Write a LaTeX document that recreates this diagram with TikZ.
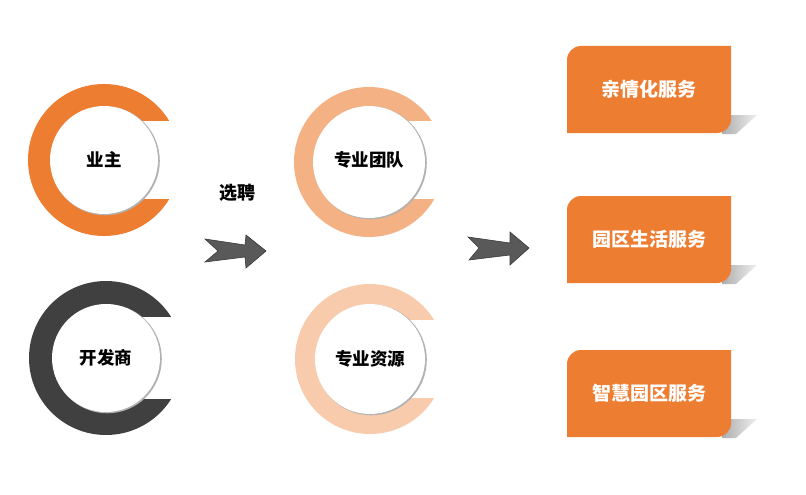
\documentclass[tikz,border=0pt]{standalone}
\usepackage{fontspec}
\setmainfont{Noto Sans CJK SC}
\definecolor{cOrange}{HTML}{ED7D31}
\definecolor{cDark}{HTML}{404040}
\definecolor{cLight}{HTML}{F4B183}
\definecolor{cPale}{HTML}{F8CBAD}
\definecolor{cArrow}{HTML}{595959}
\definecolor{cArrowEdge}{HTML}{3A3A3A}
\newcommand\myring[9]{%
  \fill[#7] (#1,#2) circle[radius=#4];
  \fill[white] (#1,#3-#6) rectangle (#1+#4+3,#3+#6);
  \fill[black!30] (#1+1.3,#2+0.8) circle[radius=#5+0.5];
  \fill[white] (#1,#2) circle[radius=#5];
  \node[circtext] (#9) at (#1,#3) {#8};
}
\newcommand\mybox[3]{%
  \shade[left color=black!32,right color=black!6] (724,#1+69) -- (757,#1+69) -- (736,#1+88) -- (722,#1+88) -- cycle;
  \fill[cOrange] (567,#1+87) -- (567,#1+14) arc[start angle=180,end angle=270,radius=14] -- (731,#1) -- (731,#1+73) arc[start angle=0,end angle=90,radius=14] -- cycle;
  \node[boxtext] (#3) at (649,#1+43.5) {#2};
}
\begin{document}
\begin{tikzpicture}[x=1pt,y=-1pt,
  circtext/.style={font=\bfseries\fontsize{17.5}{20}\selectfont, text=black, inner sep=0pt},
  boxtext/.style={font=\bfseries\fontsize{19}{22}\selectfont, text=white, inner sep=0pt},
  arrowshape/.style={fill=cArrow, draw=cArrowEdge, line width=0.6pt, line join=miter},
  labeltext/.style={font=\bfseries\fontsize{18}{21}\selectfont, text=black, inner sep=0pt}]
\useasboundingbox (0,0) rectangle (806,495);
\fill[white] (0,0) rectangle (806,495);

\myring{104}{160}{160}{76}{54}{39}{cOrange}{业主}{owner}
\myring{106}{358}{358}{77}{54}{41}{cDark}{开发商}{developer}
\myring{369}{162}{160}{75}{56}{39}{cLight}{专业团队}{team}
\myring{370}{359}{359}{75}{55}{39}{cPale}{专业资源}{resource}

\node[labeltext] (hire) at (237,193) {选聘};

\coordinate (a1) at (205,239);
\coordinate (a2) at (245,245);
\coordinate (a3) at (246,235);
\coordinate (a4) at (266,251);
\coordinate (a5) at (246,268);
\coordinate (a6) at (245,257);
\coordinate (a7) at (205,262);
\coordinate (a8) at (218,251);
\draw[arrowshape] (a1) -- (a2) -- (a3) -- (a4) -- (a5) -- (a6) -- (a7) -- (a8) -- cycle;

\coordinate (b1) at (468,237);
\coordinate (b2) at (510,243);
\coordinate (b3) at (510,232);
\coordinate (b4) at (529,248);
\coordinate (b5) at (510,265);
\coordinate (b6) at (510,255);
\coordinate (b7) at (469,260);
\coordinate (b8) at (479,248);
\draw[arrowshape] (b1) -- (b2) -- (b3) -- (b4) -- (b5) -- (b6) -- (b7) -- (b8) -- cycle;

\mybox{46}{亲情化服务}{care}
\mybox{196}{园区生活服务}{life}
\mybox{350}{智慧园区服务}{smart}
\end{tikzpicture}
\end{document}
